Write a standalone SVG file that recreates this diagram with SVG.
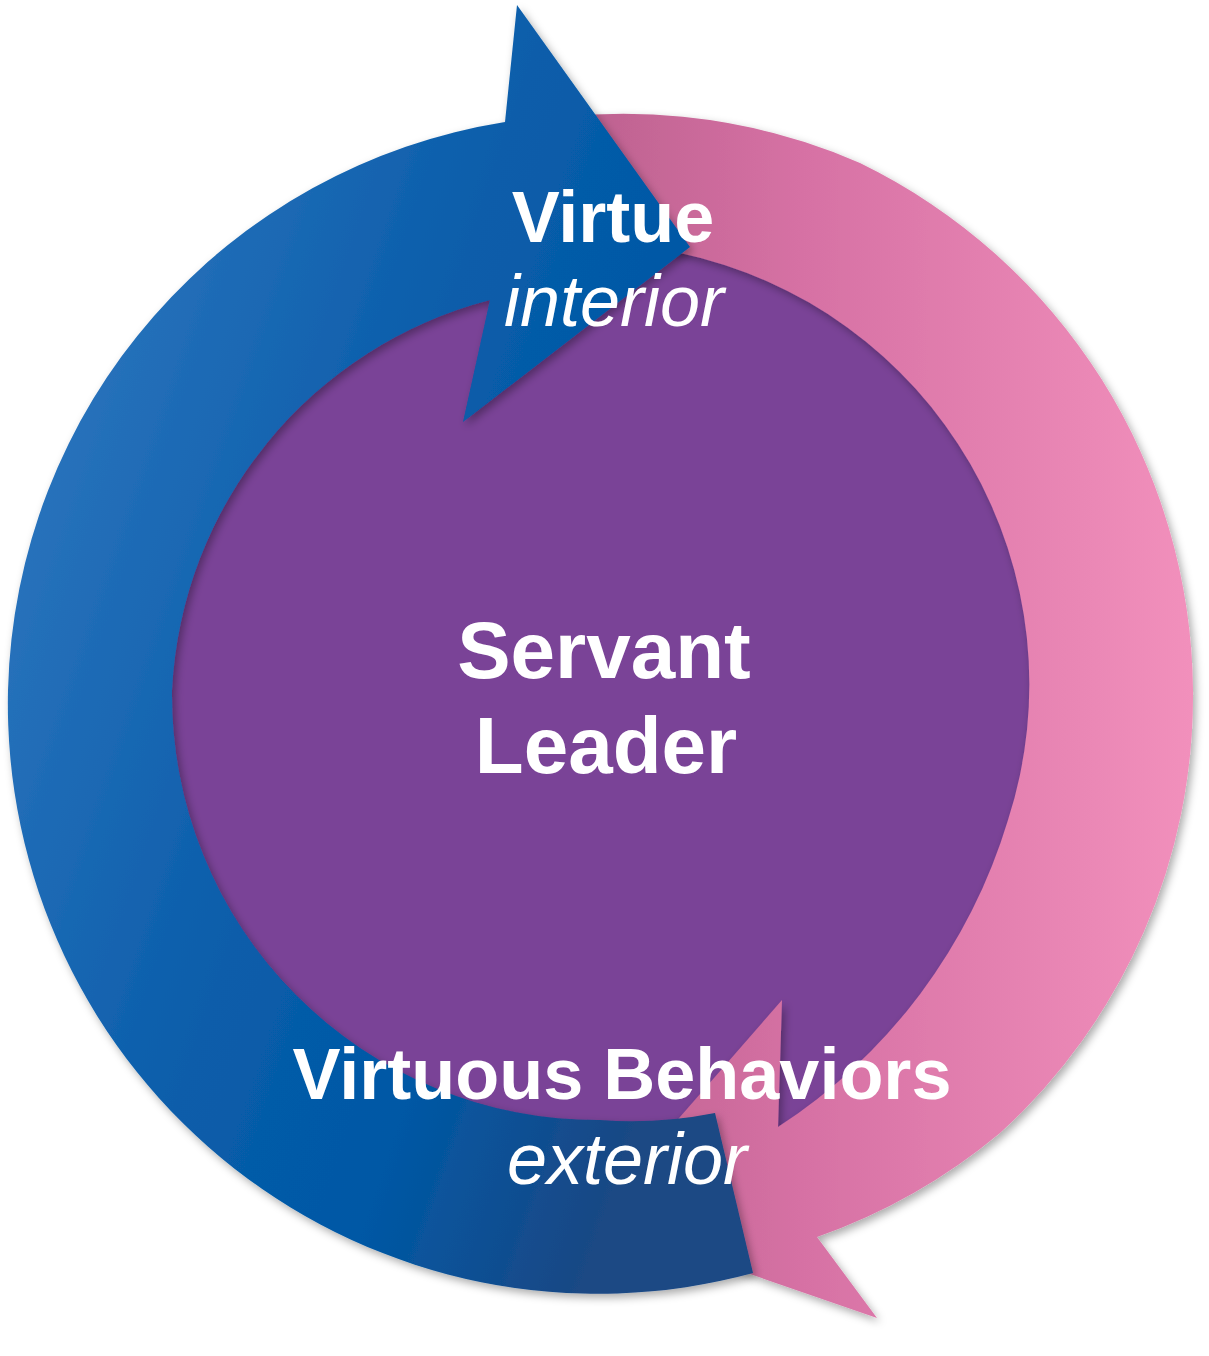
<svg xmlns="http://www.w3.org/2000/svg" width="1209" height="1356" viewBox="0 0 1209 1356">
  <style>
    .lbl { font-family: "Liberation Sans", Arial, sans-serif; fill: #FFFFFF; text-anchor: middle; font-size: 72px; }
    .b { font-weight: bold; }
    .i { font-style: italic; }
    .big { font-size: 80px; }
  </style>
  <defs>
    <linearGradient id="gBlue" gradientUnits="userSpaceOnUse" x1="0" y1="500" x2="760" y2="760">
      <stop offset="0" stop-color="#2B74BD"/>
      <stop offset="0.45" stop-color="#0A5DAA"/>
      <stop offset="0.72" stop-color="#0058A5"/>
      <stop offset="1" stop-color="#1A4884"/>
    </linearGradient>
    <linearGradient id="gPink" gradientUnits="userSpaceOnUse" x1="590" y1="0" x2="1195" y2="0">
      <stop offset="0" stop-color="#BE6290"/>
      <stop offset="0.35" stop-color="#D671A4"/>
      <stop offset="1" stop-color="#F290BC"/>
    </linearGradient>
    <filter id="shadow" x="-10%" y="-10%" width="120%" height="120%">
      <feDropShadow dx="3" dy="4" stdDeviation="4" flood-color="#000000" flood-opacity="0.33"/>
    </filter>
  </defs>

  <rect x="0" y="0" width="1209" height="1356" fill="#FFFFFF"/>

  <g id="node-servant-leader">
    <circle cx="600" cy="695" r="475" fill="#7A4397"/>
  </g>

  <g id="connectors">
    <path id="arrow-pink" filter="url(#shadow)" fill="url(#gPink)"
      d="M 500,127 A 592 592 0 0 1 860,163 A 592 592 0 0 1 1193,690 A 592 592 0 0 1 1000,1133 A 592 592 0 0 1 817,1237 L 877,1318 L 591,1219 L 782,1000 L 778,1127 A 558 558 0 0 0 1008,820 A 441 441 0 0 0 680,253 A 441 441 0 0 0 540,252 Z"/>
    <path id="arrow-blue" filter="url(#shadow)" fill="url(#gBlue)"
      d="M 753,1273 A 590 590 0 0 1 8,690 A 590 590 0 0 1 505,122 L 517,5 L 690,247 L 463,422 L 490,300 A 425 425 0 0 0 172,690 A 425 425 0 0 0 600,1120 A 425 425 0 0 0 715,1113 Z"/>
  </g>

  <g id="node-virtue">
    <text class="lbl b" x="613" y="242">Virtue</text>
    <text class="lbl i" x="614" y="326">interior</text>
  </g>
  <g id="node-servant-text">
    <text class="lbl b big" x="604" y="678">Servant</text>
    <text class="lbl b big" x="606" y="773">Leader</text>
  </g>
  <g id="node-behaviors">
    <text class="lbl b" x="622" y="1099">Virtuous Behaviors</text>
    <text class="lbl i" x="627" y="1184">exterior</text>
  </g>
</svg>
